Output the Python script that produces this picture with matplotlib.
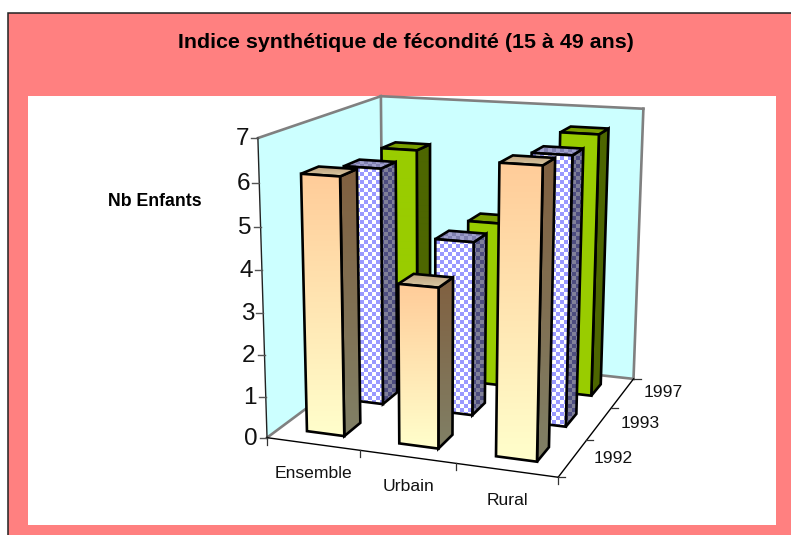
import numpy as np
import matplotlib
matplotlib.use("Agg")
import matplotlib.pyplot as plt
from matplotlib.patches import Polygon, Rectangle
from matplotlib.colors import to_rgb

plt.rcParams['font.family'] = ['Liberation Sans', 'DejaVu Sans']

# ---- data ----
categories = ["Ensemble", "Urbain", "Rural"]
years = ["1992", "1993", "1997"]
values_1992 = [6.12, 3.78, 6.65]
values_1993 = [5.88, 4.28, 6.47]
values_1997 = [5.93, 4.22, 6.58]
z_ticks = [0, 1, 2, 3, 4, 5, 6, 7]
title = "Indice synthétique de fécondité (15 à 49 ans)"
ylabel = "Nb Enfants"

W, H = 791, 535
fig = plt.figure(figsize=(W/100, H/100), dpi=100, facecolor="white")
ax = fig.add_axes([0, 0, 1, 1])
ax.set_xlim(0, W); ax.set_ylim(H, 0); ax.axis("off")

# ---- projection calibrated on the box corners (x=category, y=series, z=value) ----
world = [(0,0,0),(3,0,0),(3,3,0),(0,3,0),(0,0,7),(0,3,7),(3,3,7)]
screen = [(268,437),(558,478),(634,378),(382,352),(257,138),(382,96),(643,109)]
A = []
for (x,y,z),(u,v) in zip(world, screen):
    A.append([x,y,z,1,0,0,0,0,-u*x,-u*y,-u*z,-u])
    A.append([0,0,0,0,x,y,z,1,-v*x,-v*y,-v*z,-v])
P = np.linalg.svd(np.array(A, float))[2][-1].reshape(3,4)
def proj(x, y, z):
    h = P @ np.array([x, y, z, 1.0])
    return (h[0]/h[2], h[1]/h[2])

GRAY = "#808080"
WALL = "#CCFFFF"

# ---- background ----
ax.add_patch(Rectangle((8,13), W-8, H-13, fc="#FF8080", ec="none", zorder=0))
ax.plot([W,8,8],[13,13,H], color="#222222", lw=1.1, zorder=1, solid_joinstyle="miter")
ax.add_patch(Rectangle((28,96), 748, 429, fc="white", ec="none", zorder=1))

z = 2
def poly(pts, fc, ec="none", lw=0):
    global z
    z += 0.01
    p = Polygon(pts, closed=True, fc=fc, ec=ec, lw=lw, zorder=z, joinstyle="miter")
    ax.add_patch(p)
    return p

def textured(pts, img):
    """Paint an RGB image of the polygon's bbox, clipped to the polygon."""
    global z
    z += 0.01
    pts = np.array(pts)
    x0, y0 = pts.min(0); x1, y1 = pts.max(0)
    clip = Polygon(pts, closed=True, transform=ax.transData)
    im = ax.imshow(img(int(np.floor(x0)), int(np.ceil(x1)), int(np.floor(y0)), int(np.ceil(y1))),
                   extent=(np.floor(x0), np.ceil(x1), np.ceil(y1), np.floor(y0)),
                   interpolation="nearest", zorder=z, aspect="auto")
    im.set_clip_path(clip)
    ax.set_xlim(0, W); ax.set_ylim(H, 0)

def vgrad(c_top, c_bot):
    def f(x0, x1, y0, y1):
        t = np.linspace(0, 1, max(y1-y0, 2))[:, None, None]
        a = np.array(to_rgb(c_top))[None, None]; b = np.array(to_rgb(c_bot))[None, None]
        return np.repeat(a*(1-t)+b*t, max(x1-x0, 1), axis=1)
    return f

def checker(c1, c2, cell=4):
    def f(x0, x1, y0, y1):
        xx, yy = np.meshgrid(np.arange(x0, x1), np.arange(y0, y1))
        m = (((xx//cell)+(yy//cell)) % 2 == 0)[..., None]
        return np.where(m, np.array(to_rgb(c1)), np.array(to_rgb(c2)))
    return f

# ---- walls ----
poly([proj(0,0,0),proj(0,3,0),proj(0,3,7),proj(0,0,7)], WALL)
poly([proj(0,3,0),proj(3,3,0),proj(3,3,7),proj(0,3,7)], WALL)
def seg(a, b, color, lw):
    ax.plot([a[0],b[0]],[a[1],b[1]], color=color, lw=lw, zorder=2.5, solid_capstyle="projecting")
for a, b in [((0,0,0),(0,3,0)),((0,3,0),(3,3,0)),((3,3,0),(3,3,7)),((3,3,7),(0,3,7)),
             ((0,3,7),(0,3,0)),((0,3,7),(0,0,7))]:
    seg(proj(*a), proj(*b), GRAY, 1.9)
z = 3

# ---- axes ----
seg(proj(0,0,0), proj(0,0,7), "#222222", 1.0)
seg(proj(0,0,0), proj(3,0,0), "#000000", 1.0)
seg(proj(3,0,0), proj(3,3,0), "#000000", 1.0)
for t in z_ticks:
    u, v = proj(0,0,t)
    seg((u-7,v),(u,v),"#555555",1.0)
    ax.text(u-9, v+1, str(t), ha="right", va="center", fontsize=17.5, color="#111111")
for i in range(4):
    u, v = proj(i,0,0)
    seg((u,v),(u,v+7),"#333333",0.9)
for j in range(4):
    u, v = proj(3,j,0)
    seg((u,v),(u+7,v),"#333333",0.9)
for i, c in enumerate(categories):
    u, v = proj(i+0.5,0,0)
    ax.text(u+1, v+30, c, ha="center", va="center", fontsize=12.6, color="#111111")
for j, y in enumerate(years):
    u, v = proj(3,j+0.5,0)
    ax.text(u+41, v, y, ha="center", va="center", fontsize=12.6, color="#111111")

# ---- bars ----
BW, BD = 0.41, 0.40
styles = {
    0: dict(front=vgrad("#FFCC99","#FFFFCC"), side=vgrad("#806040","#808066"), top=vgrad("#BFA27F","#D9C9A3")),
    1: dict(front=checker("#FFFFFF","#9999FF"), side=checker("#808099","#4D4D80"), top=checker("#A0A0CC","#8080B0")),
    2: dict(front=vgrad("#99CC00","#99CC00"), side=vgrad("#4D6600","#4D6600"), top=vgrad("#7A9F00","#7A9F00")),
}
series = [values_1992, values_1993, values_1997]
for j in [2, 1, 0]:
    for i in range(3):
        v = series[j][i]
        x0, x1 = i+0.5-BW/2, i+0.5+BW/2
        y0, y1 = j+0.5-BD/2, j+0.5+BD/2
        front = [proj(x0,y0,0),proj(x1,y0,0),proj(x1,y0,v),proj(x0,y0,v)]
        side = [proj(x1,y0,0),proj(x1,y1,0),proj(x1,y1,v),proj(x1,y0,v)]
        top = [proj(x0,y0,v),proj(x1,y0,v),proj(x1,y1,v),proj(x0,y1,v)]
        st = styles[j]
        for pts, key in [(side,"side"),(top,"top"),(front,"front")]:
            textured(pts, st[key])
            poly(pts, "none", ec="black", lw=1.9)

# ---- titles ----
ax.text(406, 43, title, ha="center", va="center", fontsize=15.4, fontweight="bold", color="black")
ax.text(155, 202, ylabel, ha="center", va="center", fontsize=12.8, fontweight="bold", color="black")

fig.savefig("out.png", dpi=100, facecolor="white")
